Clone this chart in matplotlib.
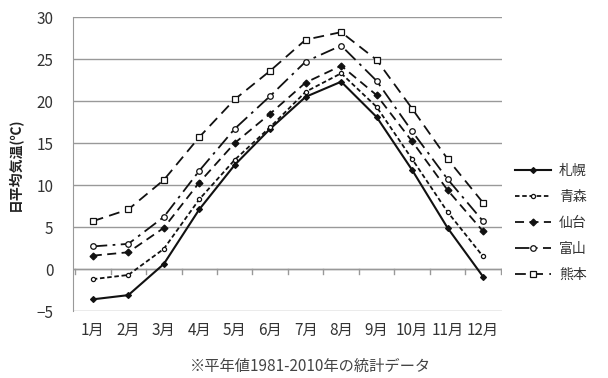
import matplotlib
matplotlib.use("Agg")
import matplotlib.pyplot as plt
from matplotlib.ticker import MultipleLocator

plt.rcParams['font.family'] = ['Noto Sans CJK JP', 'DejaVu Sans']

months = ["1月", "2月", "3月", "4月", "5月", "6月", "7月", "8月", "9月", "10月", "11月", "12月"]
sapporo = [-3.6, -3.1, 0.6, 7.1, 12.4, 16.7, 20.5, 22.3, 18.1, 11.8, 4.9, -0.9]
aomori = [-1.2, -0.7, 2.4, 8.3, 13.0, 16.9, 21.1, 23.3, 19.3, 13.1, 6.8, 1.5]
sendai = [1.6, 2.0, 4.9, 10.3, 15.0, 18.5, 22.2, 24.2, 20.7, 15.2, 9.4, 4.5]
toyama = [2.7, 3.0, 6.2, 11.7, 16.7, 20.6, 24.7, 26.6, 22.4, 16.4, 10.7, 5.7]
kumamoto = [5.7, 7.1, 10.6, 15.7, 20.2, 23.6, 27.3, 28.2, 24.9, 19.1, 13.1, 7.9]
names = ["札幌", "青森", "仙台", "富山", "熊本"]
series = [sapporo, aomori, sendai, toyama, kumamoto]

styles = [
    dict(linestyle='-', marker='D', markersize=3, markerfacecolor='#111', lw=1.5),
    dict(linestyle=(0, (2.5, 1.5)), marker='o', markersize=3, markerfacecolor='white', lw=1.3),
    dict(linestyle=(0, (5, 3)), marker='D', markersize=3.5, markerfacecolor='#111', lw=1.3),
    dict(linestyle=(0, (8, 3, 1.5, 3)), marker='o', markersize=4, markerfacecolor='white', lw=1.3),
    dict(linestyle=(0, (6, 3.5)), marker='s', markersize=4.5, markerfacecolor='white', lw=1.3),
]

fig = plt.figure(figsize=(6.08, 3.78), dpi=100)
ax = fig.add_axes([0.12, 0.177, 0.706, 0.778])

x = list(range(1, 13))
for name, vals, st in zip(names, series, styles):
    ax.plot(x, vals, color='#111111', markeredgecolor='#111111', markeredgewidth=0.9,
            label=name, **st)

ax.set_xlim(0.44, 12.54)
ax.set_ylim(-5, 30)
ax.yaxis.set_major_locator(MultipleLocator(5))
ax.grid(axis='y', color='#999999', lw=1.0)
ax.set_axisbelow(True)
for s in ['top', 'right', 'bottom']:
    ax.spines[s].set_visible(False)
ax.spines['left'].set_color('#999999')
ax.axhline(0, color='#999999', lw=1.0, zorder=0)
ax.tick_params(axis='y', length=0, labelsize=11, colors='#333333', pad=14)
ax.set_xticks(x)
ax.set_xticklabels(months)
ax.tick_params(axis='x', length=0, labelsize=11, colors='#333333', pad=8)
# minor ticks on zero line between categories
for xi in [i + 0.5 for i in range(0, 13)]:
    ax.plot([xi, xi], [0, -0.6], color='#999999', lw=1.0, zorder=0)

ax.set_ylabel("日平均気温(℃)", fontsize=10, fontweight='bold', color='#222222', labelpad=10)

ax.legend(loc='center left', bbox_to_anchor=(1.0, 0.30), frameon=False, fontsize=10,
          handlelength=2.6, labelspacing=0.85, handletextpad=0.6, labelcolor='#333333')

fig.text(0.51, 0.03, "※平年値1981-2010年の統計データ", ha='center', va='center',
         fontsize=11, color='#444444')

fig.savefig("out.png", dpi=100)
